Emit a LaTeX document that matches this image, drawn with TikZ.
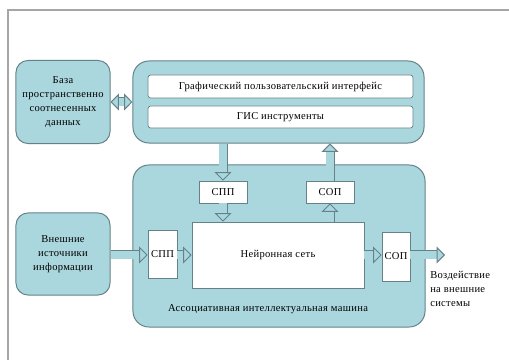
\documentclass[tikz,border=0pt]{standalone}
\usepackage{fontspec}
\setmainfont{Liberation Serif}[LetterSpace=3]
\usetikzlibrary{arrows.meta}

\definecolor{aqua}{RGB}{170,215,222}
\definecolor{edge}{RGB}{100,130,136}

\tikzset{
  txt/.style={font=\fontsize{7.5}{9.8}\selectfont, text=black},
  block/.style={txt, draw=edge, fill=aqua, rounded corners=0.3cm, line width=0.7pt, align=center, inner sep=1pt},
  panel/.style={draw=edge, fill=aqua, rounded corners=0.4cm, line width=0.7pt},
  inbox/.style={txt, draw=edge, fill=white, rounded corners=2pt, line width=0.5pt, inner sep=1pt},
  unit/.style={txt, draw=edge, fill=white, line width=0.5pt, inner sep=1pt},
  flow/.style={draw=edge, line width=0.7pt, double=aqua, double distance=5pt, -{Triangle[open, fill=aqua, length=6pt, width=12pt, line width=0.7pt]}},
  flow2/.style={draw=edge, line width=0.7pt, double=aqua, double distance=5pt, {Triangle[open, fill=aqua, length=6pt, width=12pt, line width=0.7pt]}-{Triangle[open, fill=aqua, length=6pt, width=12pt, line width=0.7pt]}}
}

\begin{document}
\begin{tikzpicture}[x=0.025cm, y=-0.025cm]
\useasboundingbox (0,0) rectangle (509,360);
\draw[black!35, line width=0.8pt] (8,360) -- (8,10) -- (509,10);

% upper part
\node[panel, minimum width=7.275cm, minimum height=2.05cm] (gis) at (278.5,102) {};
\node[inbox, minimum width=6.625cm, minimum height=0.575cm] (gui) at (280.5,86.5) {Графический пользовательский интерфейс};
\node[inbox, minimum width=6.625cm, minimum height=0.55cm] (tools) at (280.5,117) {ГИС инструменты};
\node[block, minimum width=2.35cm, minimum height=2.075cm] (base) at (63,102) {База\\пространственно\\соотнесенных\\данных};

% machine
\node[panel, minimum width=7.3cm, minimum height=4.05cm] (aim) at (279,246) {};
\node[txt] (aimlabel) at (268,309) {Ассоциативная интеллектуальная машина};
\node[unit, minimum width=1.2cm, minimum height=0.55cm] (spptop) at (223,192) {СПП};
\node[unit, minimum width=1.2cm, minimum height=0.55cm] (soptop) at (330,192) {СОП};
\node[unit, minimum width=4.3cm, minimum height=1.65cm] (net) at (278,255) {Нейронная сеть};
\node[unit, minimum width=0.725cm, minimum height=1.2cm] (sppin) at (162.5,254) {СПП};
\node[unit, minimum width=0.7cm, minimum height=1.225cm] (sopout) at (396,256.5) {СОП};

\node[block, minimum width=2.35cm, minimum height=2.05cm] (ext) at (63,254) {Внешние\\источники\\информации};
\coordinate (outend) at (445,255);
\node[txt, anchor=north west, align=left, inner sep=0pt] (effect) at (430,271) {Воздействие\\на внешние\\системы};

% arrows
\draw[flow2] (base.east) -- (gis.west);
\draw[flow] (gis.south -| spptop) -- (spptop.north);
\draw[flow] (spptop.south) -- (net.north -| spptop);
\draw[flow] (net.north -| soptop) -- (soptop.south);
\draw[flow] (soptop.north) -- (gis.south -| soptop);
\draw[flow] (ext.east |- outend) -- (sppin.west |- outend);
\draw[flow] (sppin.east |- outend) -- (net.west |- outend);
\draw[flow] (net.east |- outend) -- (sopout.west |- outend);
\draw[flow] (sopout.east |- outend) -- (outend);
\end{tikzpicture}
\end{document}
